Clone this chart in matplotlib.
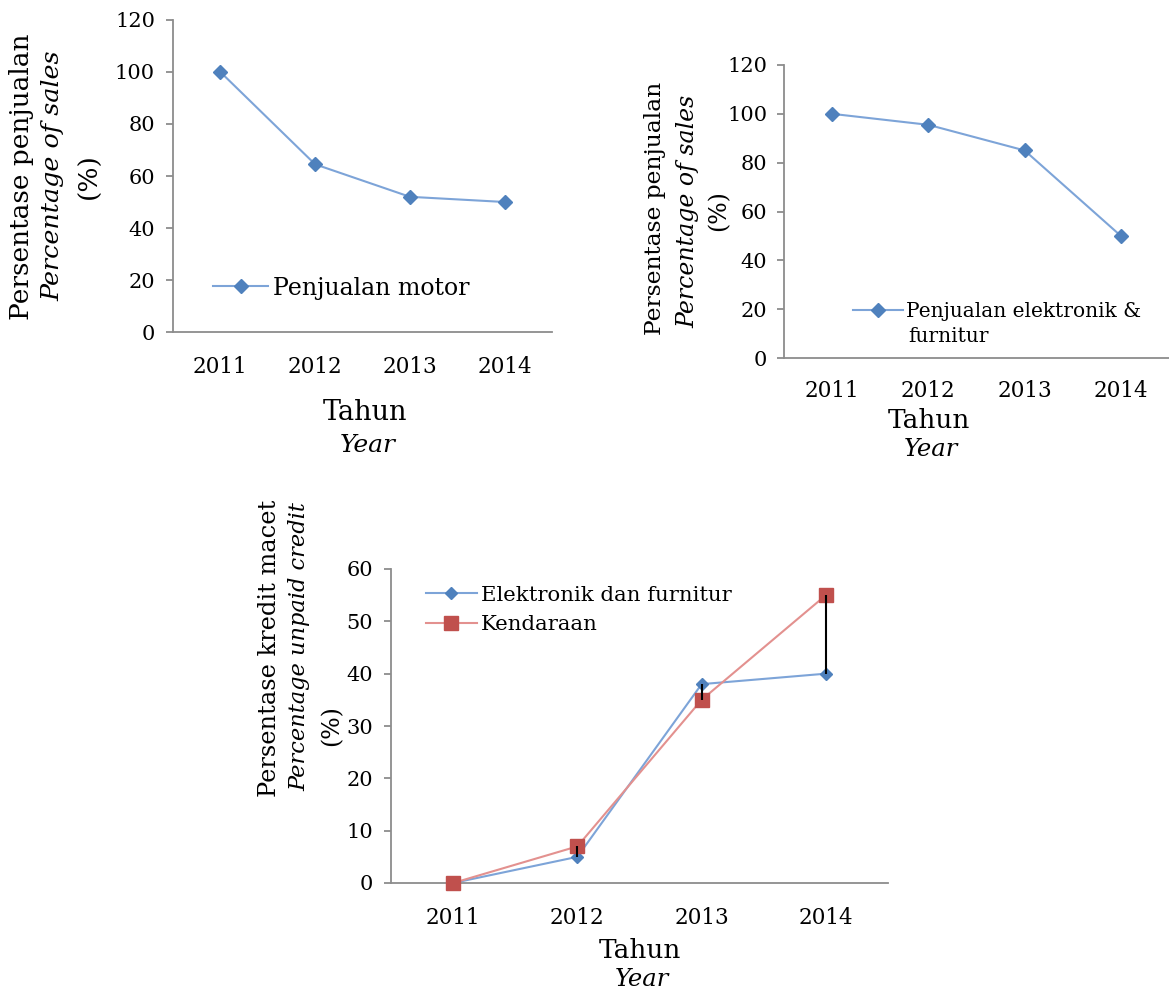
import numpy as np
import matplotlib
matplotlib.use('Agg')
import matplotlib.pyplot as plt

# ---- data ----
years = ['2011', '2012', '2013', '2014']
motor_sales = [100, 64.5, 52, 50]
elec_sales = [100, 95.5, 85, 50]
elec_credit = [0, 5, 38, 40]
vehicle_credit = [0, 7, 35, 55]

plt.rcParams['font.family'] = ['DejaVu Serif']

W, H = 1169, 994
fig = plt.figure(figsize=(W / 100, H / 100), dpi=100)


def rect(l, t, r, b):
    return [l / W, 1 - b / H, (r - l) / W, (b - t) / H]


def ft(x, y, s, **kw):
    fig.text(x / W, 1 - y / H, s, ha='center', va='center', **kw)


SP = '#8c8c8c'
BLUE_M = '#4F81BD'
BLUE_L = '#7DA4D8'
RED_M = '#C0504D'
RED_L = '#E3918F'


def style(ax, ymax, step, xpad, ypad, fs):
    x = np.arange(len(years))
    ax.set_xlim(-0.5, len(years) - 0.5)
    ax.set_ylim(0, ymax)
    ax.set_yticks(np.arange(0, ymax + 1, step))
    ax.set_xticks(x)
    ax.set_xticklabels(years)
    for s in ['top', 'right']:
        ax.spines[s].set_visible(False)
    for s in ['left', 'bottom']:
        ax.spines[s].set_color(SP)
        ax.spines[s].set_linewidth(1.3)
    ax.tick_params(axis='y', length=5, color=SP, width=1.3, pad=ypad, labelsize=fs)
    ax.tick_params(axis='x', length=0, pad=xpad, labelsize=fs + 0.5)
    ax.patch.set_alpha(0)
    return x


# ---- chart 1 ----
ax1 = fig.add_axes(rect(173, 20, 552, 332))
x = style(ax1, 120, 20, 17, 8, 15)
ax1.plot(x, motor_sales, color=BLUE_L, lw=1.5, marker='D', ms=7.5,
         mfc=BLUE_M, mec=BLUE_M, label='Penjualan motor', clip_on=False)
ax1.legend(loc='center left', bbox_to_anchor=(0.105, 0.141), frameon=False,
           handlelength=2.35, handletextpad=0.2, borderaxespad=0, borderpad=0,
           fontsize=17)
ft(22, 177, 'Persentase penjualan', rotation=90, fontsize=19)
ft(53, 176, 'Percentage of sales', rotation=90, fontsize=18.3, style='italic')
ft(89, 176, '(%)', rotation=90, fontsize=19)
ft(365, 413, 'Tahun', fontsize=19.5)
ft(368, 445, 'Year', fontsize=18, style='italic')

# ---- chart 2 ----
ax2 = fig.add_axes(rect(784, 65, 1169, 358))
x = style(ax2, 120, 20, 16, 7, 15)
ax2.plot(x, elec_sales, color=BLUE_L, lw=1.5, marker='D', ms=7,
         mfc=BLUE_M, mec=BLUE_M, label='Penjualan elektronik &', clip_on=False)
ax2.legend(loc='center left', bbox_to_anchor=(0.179, 0.160), frameon=False,
           handlelength=2.5, handletextpad=0.15, borderaxespad=0, borderpad=0,
           fontsize=14.5)
fig.text(908 / W, 1 - 336 / H, 'furnitur', ha='left', va='center', fontsize=14.5)
ft(655, 208, 'Persentase penjualan', rotation=90, fontsize=16.8)
ft(688, 211, 'Percentage of sales', rotation=90, fontsize=17, style='italic')
ft(719, 211, '(%)', rotation=90, fontsize=17)
ft(929, 421, 'Tahun', fontsize=19)
ft(931, 449, 'Year', fontsize=17.5, style='italic')

# ---- chart 3 ----
ax3 = fig.add_axes(rect(391, 569, 888, 883))
x = style(ax3, 60, 10, 17, 8, 15)
ax3.plot(x, elec_credit, color=BLUE_L, lw=1.5, marker='D', ms=6,
         mfc=BLUE_M, mec=BLUE_M, label='Elektronik dan furnitur', clip_on=False, zorder=3)
ax3.plot(x, vehicle_credit, color=RED_L, lw=1.5, marker='s', ms=10,
         mfc=RED_M, mec=RED_M, label='Kendaraan', clip_on=False, zorder=3)
ax3.vlines(x, np.minimum(elec_credit, vehicle_credit),
           np.maximum(elec_credit, vehicle_credit), color='black', lw=1.5, zorder=4)
ax3.legend(loc='center left', bbox_to_anchor=(0.070, 0.869), frameon=False,
           handlelength=2.4, handletextpad=0.2, borderaxespad=0, borderpad=0,
           labelspacing=0.5, fontsize=15.3)
ft(270, 648, 'Persentase kredit macet', rotation=90, fontsize=17.4)
ft(299, 647, 'Percentage unpaid credit', rotation=90, fontsize=16.2, style='italic')
ft(332, 726, '(%)', rotation=90, fontsize=17)
ft(640, 951, 'Tahun', fontsize=19)
ft(642, 980, 'Year', fontsize=17.5, style='italic')

fig.savefig('out.png', dpi=100)
